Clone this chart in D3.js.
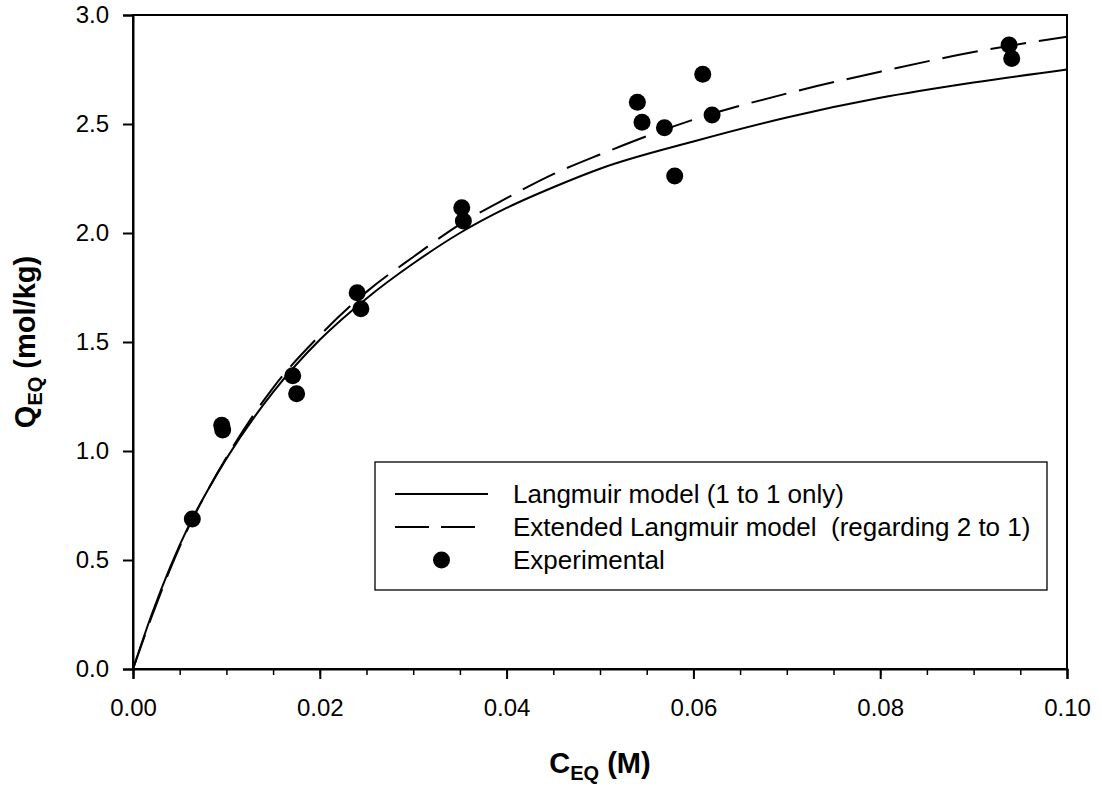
<!DOCTYPE html>
<html>
<head>
<meta charset="utf-8">
<script src="https://cdn.jsdelivr.net/npm/d3@7"></script>
<style>
  body { margin: 0; background: #fff; }
  svg { display: block; font-family: 'Liberation Sans', Arial, sans-serif; }
</style>
</head>
<body>
<svg id="chart"></svg>
<script>
const d3 = window.d3

// experimental points
const expC = [0.00635, 0.0095, 0.0096, 0.0171, 0.01752, 0.0240, 0.0244, 0.0352, 0.03537,
  0.0540, 0.0545, 0.0569, 0.0580, 0.0610, 0.0620, 0.0938, 0.09408]
const expQ = [0.688, 1.118, 1.096, 1.345, 1.263, 1.726, 1.652, 2.116, 2.055,
  2.600, 2.508, 2.483, 2.261, 2.728, 2.541, 2.862, 2.800]

// model curves
const modelC = [0, 0.002, 0.004, 0.006, 0.008, 0.01, 0.015, 0.02, 0.025, 0.03, 0.035,
  0.04, 0.045, 0.05, 0.06, 0.07, 0.08, 0.09, 0.10]
const langmuirQ = [0, 0.25, 0.47, 0.66, 0.82, 0.965, 1.27, 1.51, 1.70, 1.86, 2.00,
  2.115, 2.21, 2.295, 2.42, 2.53, 2.62, 2.69, 2.75]
const extendedQ = [0, 0.24, 0.46, 0.655, 0.82, 0.97, 1.29, 1.53, 1.73, 1.89, 2.04,
  2.16, 2.27, 2.36, 2.52, 2.64, 2.74, 2.83, 2.90]

const xTicks = [0, 0.02, 0.04, 0.06, 0.08, 0.10]
const xMinorTicks = d3.range(0, 0.1001, 0.005)
const yTicks = [0, 0.5, 1.0, 1.5, 2.0, 2.5, 3.0]

const legendLabels = ['Langmuir model (1 to 1 only)', 'Extended Langmuir model  (regarding 2 to 1)', 'Experimental']

const width = 1102
const height = 789
const plot = {left: 133, right: 1067, top: 15, bottom: 669}

const svg = d3.select('#chart').attr('width', width).attr('height', height)

const x = d3.scaleLinear().domain([0, 0.1]).range([plot.left, plot.right])
const y = d3.scaleLinear().domain([0, 3]).range([plot.bottom, plot.top])

// frame (top and right, no ticks)
svg.append('rect')
  .attr('x', plot.left).attr('y', plot.top)
  .attr('width', plot.right - plot.left).attr('height', plot.bottom - plot.top)
  .attr('fill', 'none').attr('stroke', '#000').attr('stroke-width', 2)

// x axis: minor then major ticks
svg.append('g')
  .attr('transform', `translate(0,${plot.bottom})`)
  .call(d3.axisBottom(x).tickValues(xMinorTicks).tickSize(6).tickFormat(''))
  .call(g => g.select('.domain').remove())
  .call(g => g.selectAll('line').attr('stroke-width', 1.5))

svg.append('g')
  .attr('transform', `translate(0,${plot.bottom})`)
  .call(d3.axisBottom(x).tickValues(xTicks).tickSize(10).tickPadding(20).tickFormat(d3.format('.2f')))
  .call(g => g.select('.domain').attr('stroke-width', 2))
  .call(g => g.selectAll('line').attr('stroke-width', 2))
  .call(g => g.selectAll('text').attr('font-size', 24).attr('font-family', null).attr('fill', '#000'))

svg.append('g')
  .attr('transform', `translate(${plot.left},0)`)
  .call(d3.axisLeft(y).tickValues(yTicks).tickSize(10).tickPadding(14).tickFormat(d3.format('.1f')))
  .call(g => g.select('.domain').attr('stroke-width', 2))
  .call(g => g.selectAll('line').attr('stroke-width', 2))
  .call(g => g.selectAll('text').attr('font-size', 24).attr('font-family', null).attr('fill', '#000'))

// axis titles
const xTitle = svg.append('text')
  .attr('x', (plot.left + plot.right) / 2).attr('y', 773)
  .attr('text-anchor', 'middle').attr('font-size', 29).attr('font-weight', 'bold')
xTitle.append('tspan').text('C')
xTitle.append('tspan').attr('font-size', 20).attr('dy', 7).text('EQ')
xTitle.append('tspan').attr('dy', -7).text(' (M)')

const yTitle = svg.append('text')
  .attr('transform', `translate(35,${(plot.top + plot.bottom) / 2}) rotate(-90)`)
  .attr('text-anchor', 'middle').attr('font-size', 29).attr('font-weight', 'bold')
yTitle.append('tspan').text('Q')
yTitle.append('tspan').attr('font-size', 20).attr('dy', 7).text('EQ')
yTitle.append('tspan').attr('dy', -7).text(' (mol/kg)')

// curves
const langmuirData = modelC.map((c, i) => ({c, q: langmuirQ[i]}))
const extendedData = modelC.map((c, i) => ({c, q: extendedQ[i]}))
const line = d3.line().x(d => x(d.c)).y(d => y(d.q)).curve(d3.curveMonotoneX)

svg.append('path').datum(langmuirData)
  .attr('d', line).attr('fill', 'none').attr('stroke', '#000').attr('stroke-width', 2)

svg.append('path').datum(extendedData)
  .attr('d', line).attr('fill', 'none').attr('stroke', '#000').attr('stroke-width', 2)
  .attr('stroke-dasharray', '36,13')

// experimental points
svg.append('g').selectAll('circle')
  .data(expC.map((c, i) => ({c, q: expQ[i]})))
  .join('circle')
  .attr('cx', d => x(d.c)).attr('cy', d => y(d.q)).attr('r', 8.5).attr('fill', '#000')

// legend
const legend = svg.append('g')
legend.append('rect')
  .attr('x', 375).attr('y', 462).attr('width', 672).attr('height', 128)
  .attr('fill', '#fff').attr('stroke', '#000').attr('stroke-width', 1.3)

const rowY = [494, 527, 560]
legend.append('line')
  .attr('x1', 395).attr('x2', 488).attr('y1', rowY[0]).attr('y2', rowY[0])
  .attr('stroke', '#000').attr('stroke-width', 2)
legend.append('line')
  .attr('x1', 395).attr('x2', 476).attr('y1', rowY[1]).attr('y2', rowY[1])
  .attr('stroke', '#000').attr('stroke-width', 2).attr('stroke-dasharray', '34,12')
legend.append('circle')
  .attr('cx', 441.5).attr('cy', rowY[2]).attr('r', 8.5).attr('fill', '#000')

legend.selectAll('text.label')
  .data(legendLabels)
  .join('text')
  .attr('class', 'label')
  .attr('x', 513).attr('y', (d, i) => rowY[i])
  .attr('dy', '0.35em').attr('font-size', 26)
  .style('white-space', 'pre')
  .text(d => d)
</script>
</body>
</html>
